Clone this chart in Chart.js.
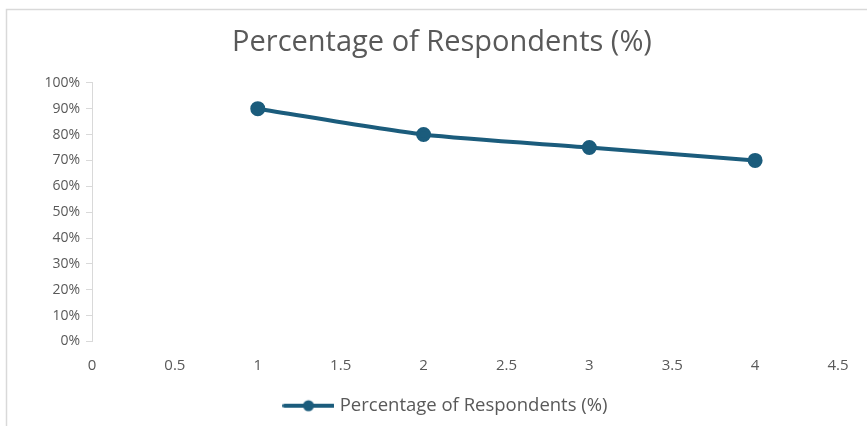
<!DOCTYPE html>
<html>
<head>
<meta charset="utf-8">
<script src="https://cdn.jsdelivr.net/npm/chart.js@4.4.1/dist/chart.umd.min.js"></script>
<style>
html,body{margin:0;padding:0;background:#fff;}
#wrap{width:867px;height:426px;position:relative;}
</style>
</head>
<body>
<div id="wrap"><canvas id="c"></canvas></div>
<script>
const chartTitle = "Percentage of Respondents (%)";
const seriesName = "Percentage of Respondents (%)";
const xValues = [1, 2, 3, 4];
const yValues = [90, 80, 75, 70];
const xTickLabels = ["0", "0.5", "1", "1.5", "2", "2.5", "3", "3.5", "4", "4.5"];
const yTickLabels = ["0%", "10%", "20%", "30%", "40%", "50%", "60%", "70%", "80%", "90%", "100%"];

const lineColor = "#1b5c7c";
const textColor = "#595959";
const FONT = "'Open Sans', sans-serif";

// legend symbol: line with marker
const sym = document.createElement('canvas');
sym.width = 52; sym.height = 14;
(function(){
  const g = sym.getContext('2d');
  g.strokeStyle = lineColor; g.lineWidth = 4; g.lineCap = 'round';
  g.beginPath(); g.moveTo(2, 7); g.lineTo(51, 7); g.stroke();
  g.fillStyle = lineColor;
  g.beginPath(); g.arc(26, 7, 5.5, 0, Math.PI*2); g.fill();
})();

const framePlugin = {
  id: 'frame',
  afterLayout(chart) {
    const shiftT = 23, shiftL = 28;
    if (chart.titleBlock) { chart.titleBlock.left += shiftT; chart.titleBlock.right += shiftT; }
    if (chart.legend) { chart.legend.left += shiftL; chart.legend.right += shiftL; }
  },
  beforeDraw(chart) {
    const ctx = chart.ctx;
    ctx.save();
    ctx.fillStyle = '#fff';
    ctx.fillRect(0, 0, chart.width, chart.height);
    ctx.strokeStyle = '#d9d9d9';
    ctx.lineWidth = 1.5;
    ctx.beginPath();
    ctx.moveTo(6.5, chart.height);
    ctx.lineTo(6.5, 9.5);
    ctx.lineTo(chart.width, 9.5);
    ctx.stroke();
    ctx.restore();
  }
};

new Chart(document.getElementById('c'), {
  type: 'line',
  data: {
    datasets: [{
      label: seriesName,
      data: xValues.map((x, i) => ({x: x, y: yValues[i]})),
      borderColor: lineColor,
      backgroundColor: lineColor,
      borderWidth: 4,
      pointRadius: 5.5,
      pointHoverRadius: 5.5,
      pointBackgroundColor: lineColor,
      pointBorderColor: lineColor,
      tension: 0.25,
      fill: false
    }]
  },
  options: {
    responsive: true,
    maintainAspectRatio: false,
    animation: false,
    layout: { padding: { left: 0, right: 29, top: 10, bottom: 1 } },
    plugins: {
      title: {
        display: true,
        text: chartTitle,
        color: textColor,
        font: { family: FONT, size: 29, weight: 'normal' },
        padding: { top: 15, bottom: 23 }
      },
      legend: {
        position: 'bottom',
        labels: {
          color: textColor,
          font: { family: FONT, size: 18.5 },
          usePointStyle: true,
          pointStyleWidth: 44,
          padding: 10,
          generateLabels(chart) {
            return [{
              text: seriesName,
              pointStyle: sym,
              fillStyle: lineColor,
              strokeStyle: lineColor,
              lineWidth: 0,
              hidden: false,
              datasetIndex: 0,
              fontColor: textColor
            }];
          }
        }
      },
      tooltip: { enabled: false }
    },
    scales: {
      x: {
        type: 'linear',
        min: 0,
        max: 4.5,
        ticks: {
          stepSize: 0.5,
          color: textColor,
          font: { family: FONT, size: 15 },
          padding: 15,
          maxRotation: 0,
          callback: (v, i) => xTickLabels[i]
        },
        grid: { display: false, drawTicks: false },
        border: { display: false },
        afterFit(s) { s.height = 45; }
      },
      y: {
        min: 0,
        max: 100,
        ticks: {
          stepSize: 10,
          color: textColor,
          font: { family: FONT, size: 14 },
          padding: 6,
          callback: (v, i) => yTickLabels[i]
        },
        grid: {
          display: true,
          drawOnChartArea: false,
          drawTicks: true,
          tickLength: 6,
          color: '#d9d9d9',
          lineWidth: 1
        },
        border: { display: true, color: '#d9d9d9', width: 1 },
        afterFit(s) { s.width = 92; }
      }
    }
  },
  plugins: [framePlugin]
});
</script>
</body>
</html>
